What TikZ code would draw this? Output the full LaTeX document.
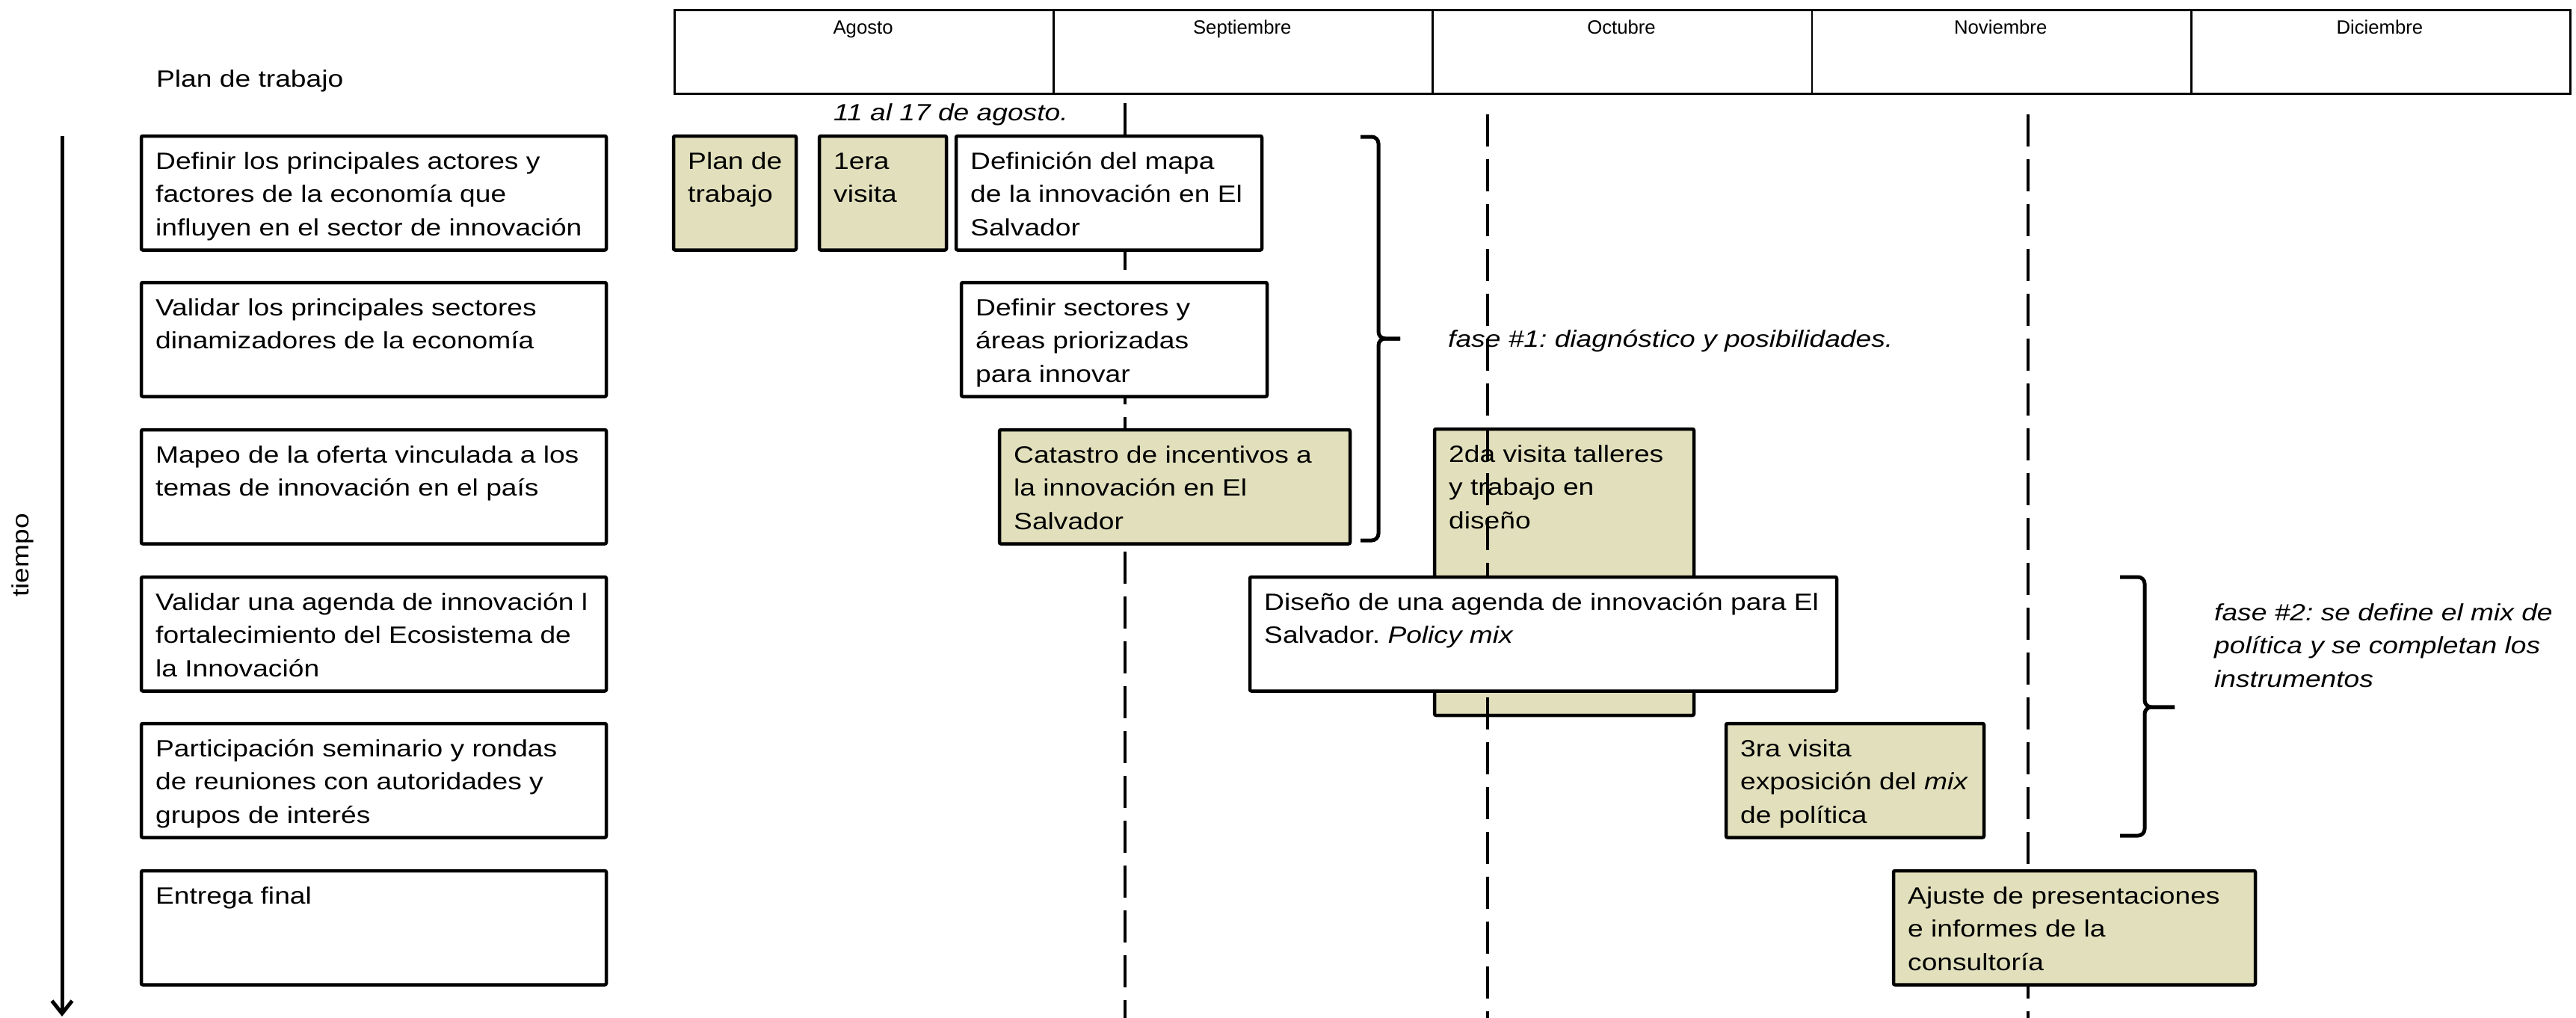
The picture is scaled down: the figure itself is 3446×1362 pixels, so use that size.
\documentclass[tikz,border=0pt]{standalone}
\usepackage{fontspec}
\setmainfont{Liberation Sans}
\newfontfamily\bodyf{Liberation Sans}[FakeStretch=1.18]
\usetikzlibrary{arrows.meta}
\definecolor{beige}{RGB}{226,224,188}
\newcommand\tstrut{\rule{0pt}{44pt}}
\frenchspacing
\begin{document}
\begin{tikzpicture}[x=1pt,y=-1pt,
  cellw/.style={draw, line width=4.5pt, fill=white, anchor=north west, inner sep=0pt, outer sep=0pt, rounded corners=2pt},
  cellb/.style={cellw, fill=beige},
  txt/.style={anchor=north west, inner sep=0pt, align=left, font=\bodyf\fontsize{31.5}{44.4}\selectfont},
  txtline/.style={inner sep=0pt, font=\bodyf\fontsize{31.5}{44.4}\selectfont},
  mcell/.style={draw, line width=2.8pt, anchor=north west, inner sep=0pt, minimum width=507.2pt, minimum height=112pt},
  mlab/.style={anchor=base, inner sep=0pt, font=\fontsize{25.7}{30}\selectfont},
  dline/.style={line width=4.5pt, dash pattern=on 43pt off 17pt},
  brace/.style={line width=5pt, rounded corners=9pt},
]
\useasboundingbox (0,0) rectangle (3446,1362);

% header
\node[mcell] (m1) at (901,12) {};
\node[mcell] (m2) at (1408.2,12) {};
\node[mcell] (m3) at (1915.4,12) {};
\node[mcell] (m4) at (2422.6,12) {};
\node[mcell] (m5) at (2929.8,12) {};
\node[mlab] (ml1) at (1154.6,46) {Agosto};
\node[mlab] (ml2) at (1661.8,46) {Septiembre};
\node[mlab] (ml3) at (2169,46) {Octubre};
\node[mlab] (ml4) at (2676.2,46) {Noviembre};
\node[mlab] (ml5) at (3183.4,46) {Diciembre};

\node[txtline, anchor=base west] (title) at (209,117) {Plan de trabajo};
\node[txtline, anchor=base west] (fecha) at (1115,161) {\itshape 11 al 17 de agosto.};

% time axis
\node[txtline, rotate=90] (tiempo) at (30,743) {tiempo};
\coordinate (arrS) at (83,182);
\coordinate (arrE) at (83,1360);
\draw[line width=5pt, -{Straight Barb[length=17pt,width=27pt]}] (arrS) -- (arrE);

% left column
\node[cellw, minimum width=622pt, minimum height=152.5pt] (L1) at (189,182) {};
\node[txt] (tL1) at (208,182) {\tstrut Definir los principales actores y\\factores de la economía que\\influyen en el sector de innovación};
\node[cellw, minimum width=622pt, minimum height=152.5pt] (L2) at (189,378) {};
\node[txt] (tL2) at (208,378) {\tstrut Validar los principales sectores\\dinamizadores de la economía};
\node[cellw, minimum width=622pt, minimum height=152.5pt] (L3) at (189,575) {};
\node[txt] (tL3) at (208,575) {\tstrut Mapeo de la oferta vinculada a los\\temas de innovación en el país};
\node[cellw, minimum width=622pt, minimum height=152.5pt] (L4) at (189,772) {};
\node[txt] (tL4) at (208,772) {\tstrut Validar una agenda de innovación l\\fortalecimiento del Ecosistema de\\la Innovación};
\node[cellw, minimum width=622pt, minimum height=152.5pt] (L5) at (189,968) {};
\node[txt] (tL5) at (208,968) {\tstrut Participación seminario y rondas\\de reuniones con autoridades y\\grupos de interés};
\node[cellw, minimum width=622pt, minimum height=152.5pt] (L6) at (189,1165) {};
\node[txt] (tL6) at (208,1165) {\tstrut Entrega final};

% box under the dashed lines
\node[cellb, minimum width=347pt, minimum height=383pt] (G6) at (1919,574) {};
\node[txt] (tG6) at (1938,574) {\tstrut 2da visita talleres\\y trabajo en\\diseño};

\node[txtline, anchor=base west] (fase1) at (1937,464) {\itshape fase \#1: diagnóstico y posibilidades.};

% dashed month markers
\coordinate (d1a) at (1505,138); \coordinate (d1b) at (1505,1362);
\coordinate (d2a) at (1990,153); \coordinate (d2b) at (1990,1362);
\coordinate (d3a) at (2713,153); \coordinate (d3b) at (2713,1362);
\draw[dline] (d1a) -- (d1b);
\draw[dline] (d2a) -- (d2b);
\draw[dline] (d3a) -- (d3b);

% gantt boxes
\node[cellb, minimum width=164pt, minimum height=152.5pt] (G1) at (901,182) {};
\node[txt] (tG1) at (920,182) {\tstrut Plan de\\trabajo};
\node[cellb, minimum width=170pt, minimum height=152.5pt] (G2) at (1096,182) {};
\node[txt] (tG2) at (1115,182) {\tstrut 1era\\visita};
\node[cellw, minimum width=409pt, minimum height=152.5pt] (G3) at (1279,182) {};
\node[txt] (tG3) at (1298,182) {\tstrut Definición del mapa\\de la innovación en El\\Salvador};
\node[cellw, minimum width=409pt, minimum height=152.5pt] (G4) at (1286,378) {};
\node[txt] (tG4) at (1305,378) {\tstrut Definir sectores y\\áreas priorizadas\\para innovar};
\node[cellb, minimum width=469pt, minimum height=152.5pt] (G5) at (1337,575) {};
\node[txt] (tG5) at (1356,575) {\tstrut Catastro de incentivos a\\la innovación en El\\Salvador};
\node[cellw, minimum width=785pt, minimum height=152.5pt] (G7) at (1672,772) {};
\node[txt] (tG7) at (1691,772) {\tstrut Diseño de una agenda de innovación para El\\Salvador. \textit{Policy mix}};
\node[cellb, minimum width=345pt, minimum height=152.5pt] (G8) at (2309,968) {};
\node[txt] (tG8) at (2328,968) {\tstrut 3ra visita\\exposición del \textit{mix}\\de política};
\node[cellb, minimum width=484pt, minimum height=152.5pt] (G9) at (2533,1165) {};
\node[txt] (tG9) at (2552,1165) {\tstrut Ajuste de presentaciones\\e informes de la\\consultoría};

% braces
\draw[brace] (1820,183) -- (1844,183) -- (1844,453) -- (1873,453);
\draw[brace] (1873,453) -- (1844,453) -- (1844,723) -- (1820,723);
\draw[brace] (2836,772) -- (2869,772) -- (2869,946) -- (2909,946);
\draw[brace] (2909,946) -- (2869,946) -- (2869,1118) -- (2836,1118);

\node[txt] (fase2) at (2962,786) {\itshape\tstrut fase \#2: se define el mix de\\\itshape política y se completan los\\\itshape instrumentos};
\end{tikzpicture}
\end{document}
